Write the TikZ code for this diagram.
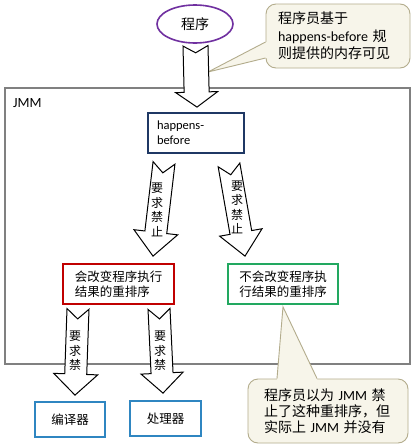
\documentclass[tikz,border=0pt]{standalone}
\usepackage{fontspec}
\setmainfont{Carlito}
\newfontfamily\cjk{Noto Sans CJK SC}
\usetikzlibrary{calc,shapes.geometric}
\definecolor{purplec}{HTML}{7030A0}
\definecolor{navyc}{HTML}{1F3864}
\definecolor{redc}{HTML}{C00000}
\definecolor{greenc}{HTML}{22A860}
\definecolor{bluec}{HTML}{2F86C1}
\definecolor{jmmgray}{HTML}{808080}
\definecolor{callfill}{HTML}{F7F5EA}
\definecolor{callline}{HTML}{B3AC8C}
\tikzset{
  fatarr/.style={draw=black, fill=white, line width=1pt, line join=miter},
  cbox/.style={draw, line width=1.8pt, fill=white, inner sep=0pt},
  callbox/.style={draw=callline, fill=callfill, line width=0.9pt, rounded corners=10pt, inner sep=0pt, align=left},
  vtext/.style={align=center, font=\cjk\fontsize{12}{14.5}\selectfont, inner sep=0pt},
  boxtext/.style={font=\cjk\fontsize{12.5}{15.5}\selectfont, align=left},
}
% #1 name, #2 start, #3 tip, #4 shaft half width, #5 head half width, #6 head length, #7 notch depth
\newcommand\fatarrow[7]{%
  \coordinate (#1h) at ($(#3)!#6!(#2)$);
  \draw[fatarr] ($(#2)!#4!90:(#3)$) -- ($(#2)!#7!(#3)$) -- ($(#2)!#4!-90:(#3)$)
    -- ($(#1h)!#4!90:(#2)$) -- ($(#1h)!#5!90:(#2)$) -- (#3)
    -- ($(#1h)!#5!-90:(#2)$) -- ($(#1h)!#4!-90:(#2)$) -- cycle;
}
\begin{document}
\begin{tikzpicture}[x=1pt,y=-1pt]
\useasboundingbox (0,0) rectangle (419,445);
\fill[white] (0,0) rectangle (419,445);

% JMM frame
\draw[jmmgray, line width=2.5pt] (5,88) rectangle (410,364);
\node[anchor=west, font=\fontsize{14}{16}\selectfont, inner sep=0pt] (jmm) at (13,103) {JMM};

% program ellipse
\node[ellipse, draw=purplec, line width=1.6pt, fill=white, minimum width=76pt, minimum height=38pt, inner sep=0pt,
      font=\cjk\fontsize{14}{16}\selectfont] (prog) at (195,24) {程序};

% boxes
\node[cbox, draw=navyc, minimum width=96pt, minimum height=40pt, text width=78pt, align=left,
      font=\fontsize{12.5}{15}\selectfont] (hb) at (196,133) {happens-\\before};
\node[cbox, draw=redc, minimum width=111pt, minimum height=40pt, boxtext] (red) at (118.5,284)
      {会改变程序执行\\结果的重排序};
\node[cbox, draw=greenc, minimum width=110pt, minimum height=40pt, boxtext] (green) at (283,284)
      {不会改变程序执\\行结果的重排序};
\node[cbox, draw=bluec, minimum width=70pt, minimum height=35pt, boxtext] (comp) at (70,419.5) {编译器};
\node[cbox, draw=bluec, minimum width=71pt, minimum height=35pt, boxtext] (proc) at (165.5,418.5) {处理器};

% top callout
\node[callbox, minimum width=144pt, minimum height=64pt, text width=120pt,
      font=\fontsize{14}{17.5}\selectfont] (c1) at (338,36)
      {{\cjk 程序员基于}\\happens-before {\cjk 规}\\{\cjk 则提供的内存可见}};
\coordinate (c1tip) at (208,72);
\fill[callfill] ($(c1.west)+(1.5,6)$) -- ($(c1.west)+(0,6)$) -- (c1tip) -- ($(c1.west)+(0,22)$) -- ($(c1.west)+(1.5,22)$) -- cycle;
\draw[callline, line width=0.9pt] ($(c1.west)+(0,6)$) -- (c1tip) -- ($(c1.west)+(0,22)$);

% bottom callout
\node[callbox, minimum width=160pt, minimum height=64pt, text width=128pt,
      font=\fontsize{14}{16}\selectfont] (c2) at (328,411)
      {{\cjk 程序员以为} JMM {\cjk 禁}\\{\cjk 止了这种重排序，但}\\{\cjk 实际上} JMM {\cjk 并没有}};
\fill[callfill] ($(c2.north)+(-51,1.5)$) -- ($(c2.north)+(-51,0)$) -- ($(green.south)+(0,2)$) -- ($(c2.north)+(-11,0)$) -- ($(c2.north)+(-11,1.5)$) -- cycle;
\draw[callline, line width=0.9pt] ($(c2.north)+(-51,0)$) -- ($(green.south)+(0,2)$) -- ($(c2.north)+(-11,0)$);

% fat arrows
\coordinate (a0s) at ($(prog.south)+(0.5,2)$);
\coordinate (a0t) at ($(hb.north)+(1,-5)$);
\fatarrow{a0}{a0s}{a0t}{12.5pt}{21pt}{15pt}{7pt}

\coordinate (a1s) at ($(hb.south)+(-32,9)$);
\coordinate (a1t) at ($(red.north)+(34.5,-7)$);
\fatarrow{a1}{a1s}{a1t}{11pt}{22pt}{24pt}{10pt}

\coordinate (a2s) at ($(hb.south)+(33,11)$);
\coordinate (a2t) at ($(green.north)+(-38,-7)$);
\fatarrow{a2}{a2s}{a2t}{11pt}{21.5pt}{24pt}{10pt}

\coordinate (a3s) at ($(red.south)+(-40.5,4)$);
\coordinate (a3t) at ($(comp.north)+(5,-6)$);
\fatarrow{a3}{a3s}{a3t}{11pt}{22pt}{21pt}{10pt}

\coordinate (a4s) at ($(red.south)+(40.5,4)$);
\coordinate (a4t) at ($(proc.north)+(-2.5,-7)$);
\fatarrow{a4}{a4s}{a4t}{11pt}{21pt}{20pt}{10pt}

% arrow labels
\node[vtext] (t1) at (157,210) {要\\求\\禁\\止};
\node[vtext] (t2) at (237,207.5) {要\\求\\禁\\止};
\node[vtext] (t3) at (75,351) {要\\求\\禁};
\node[vtext] (t4) at (160,351) {要\\求\\禁};
\end{tikzpicture}
\end{document}
